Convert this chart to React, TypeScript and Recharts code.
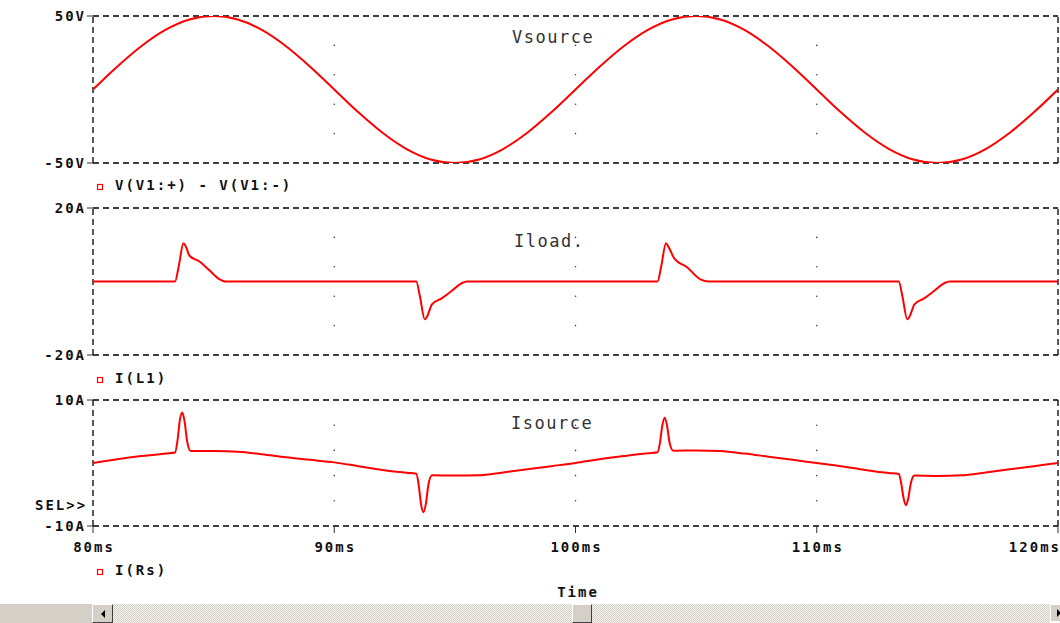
import React from 'react';
import {
	LineChart,
	Line,
	XAxis,
	YAxis,
	ReferenceLine,
	ReferenceDot,
} from 'recharts';

// time axis (ms)
const timeTicks = [80, 90, 100, 110, 120];
const gridTimes = [90, 100, 110];

// Vsource, sampled every 1 ms from 80 to 120 ms
const vTimes = [
	80, 81, 82, 83, 84, 85, 86, 87, 88, 89, 90, 91, 92, 93, 94, 95, 96, 97, 98, 99, 100,
	101, 102, 103, 104, 105, 106, 107, 108, 109, 110, 111, 112, 113, 114, 115, 116, 117, 118, 119, 120,
];
const vValues = [
	0, 15.5, 29.4, 40.5, 47.6, 50, 47.6, 40.5, 29.4, 15.5, 0, -15.5, -29.4, -40.5, -47.6, -50, -47.6, -40.5, -29.4, -15.5, 0,
	15.5, 29.4, 40.5, 47.6, 50, 47.6, 40.5, 29.4, 15.5, 0, -15.5, -29.4, -40.5, -47.6, -50, -47.6, -40.5, -29.4, -15.5, 0,
];
const vTicks = [-50, 50];
const vGrid = [-30, -10, 10, 30];

// Iload
const loadTimes = [
	80, 83.4, 83.55, 83.75, 83.85, 84.0, 84.4, 84.8, 85.2, 85.5,
	93.4, 93.55, 93.75, 93.85, 94.05, 94.45, 94.9, 95.3, 95.5,
	103.4, 103.55, 103.75, 103.85, 104.1, 104.6, 105.2, 105.5,
	113.4, 113.55, 113.75, 113.85, 114.05, 114.45, 114.9, 115.3, 115.5, 120,
];
const loadValues = [
	0, 0, 4, 10.4, 9.5, 7.0, 5.5, 3.2, 0.8, 0,
	0, -4, -10.3, -9.5, -6.2, -4.6, -2.4, -0.4, 0,
	0, 4, 10.4, 9.5, 6.2, 4.0, 0.5, 0,
	0, -4, -10.3, -9.5, -6.2, -4.6, -2.4, -0.4, 0, 0,
];
const loadTicks = [-20, 20];
const loadGrid = [-12, -4, 4, 12];

// Isource
const srcTimes = [
	80, 81, 82, 83, 83.4, 83.5, 83.6, 83.7, 83.8, 83.9, 84.05, 85, 86, 87, 88, 89, 90,
	91, 92, 93, 93.4, 93.5, 93.6, 93.7, 93.8, 93.9, 94.05, 95, 96, 97, 98, 99, 100,
	101, 102, 103, 103.4, 103.5, 103.6, 103.7, 103.8, 103.9, 104.05, 105, 106, 107, 108, 109, 110,
	111, 112, 113, 113.4, 113.5, 113.6, 113.7, 113.8, 113.9, 114.05, 115, 116, 117, 118, 119, 120,
];
const srcValues = [
	0, 0.6, 1.1, 1.5, 1.65, 3.5, 6.8, 8.0, 6.5, 3.5, 1.9, 1.9, 1.8, 1.4, 0.9, 0.5, 0.1,
	-0.5, -1.1, -1.55, -1.7, -3.5, -6.6, -7.8, -6.4, -3.5, -1.95, -2.0, -1.95, -1.5, -1.0, -0.5, 0,
	0.6, 1.1, 1.55, 1.7, 3.2, 6.0, 7.2, 5.8, 3.2, 1.95, 2.0, 1.9, 1.5, 1.0, 0.5, 0,
	-0.5, -1.1, -1.6, -1.75, -3.2, -5.6, -6.7, -5.5, -3.2, -2.0, -2.05, -1.95, -1.5, -1.0, -0.5, 0,
];
const srcTicks = [-10, 10];
const srcGrid = [-6, -2, 2, 6];

const FONT = '"DejaVu Sans Mono", monospace';
const RED = '#ff0000';
const DASH = '#000';

const toRows = (times: number[], values: number[]) =>
	times.map((t, i) => ({ t, v: values[i] }));

function YTick(props: any) {
	const { x, y, payload, unit } = props;
	return (
		<text
			x={x + 1}
			y={y}
			dy={5}
			textAnchor="end"
			fontFamily={FONT}
			fontWeight="bold"
			fontSize={14}
			letterSpacing={2}
			fill="#111"
		>
			{`${payload.value}${unit}`}
		</text>
	);
}

function XTick(props: any) {
	const { x, y, payload } = props;
	const last = payload.value === 120;
	return (
		<text
			x={last ? x + 3 : x + 1}
			y={y}
			dy={17}
			textAnchor={last ? 'end' : 'middle'}
			fontFamily={FONT}
			fontWeight="bold"
			fontSize={14}
			letterSpacing={2}
			fill="#111"
		>
			{`${payload.value}ms`}
		</text>
	);
}

interface PanelProps {
	top: number;
	plotHeight: number;
	times: number[];
	values: number[];
	domain: [number, number];
	ticks: number[];
	grid: number[];
	unit: string;
	showTime?: boolean;
}

function Panel({ top, plotHeight, times, values, domain, ticks, grid, unit, showTime }: PanelProps) {
	const data = toRows(times, values);
	const height = 16 + plotHeight + (showTime ? 30 : 7);
	return (
		<div style={{ position: 'absolute', left: 0, top }}>
			<LineChart
				width={1060}
				height={height}
				data={data}
				margin={{ top: 16, right: 2, left: 0, bottom: showTime ? 0 : 7 }}
			>
				<XAxis
					dataKey="t"
					type="number"
					domain={[80, 120]}
					ticks={timeTicks}
					hide={!showTime}
					axisLine={false}
					tickSize={7}
					tickLine={{ stroke: '#333' }}
					tick={<XTick />}
					interval={0}
					allowDataOverflow
				/>
				<YAxis
					type="number"
					domain={domain}
					ticks={ticks}
					interval={0}
					width={93}
					axisLine={false}
					tickSize={6}
					tickLine={{ stroke: '#333' }}
					tick={<YTick unit={unit} />}
					allowDataOverflow
				/>
				<ReferenceLine y={domain[1]} stroke={DASH} strokeWidth={1.3} strokeDasharray="6 4" />
				<ReferenceLine y={domain[0]} stroke={DASH} strokeWidth={1.3} strokeDasharray="6 4" />
				<ReferenceLine x={80} stroke={DASH} strokeWidth={1.3} strokeDasharray="6 4" />
				<ReferenceLine x={120} stroke={DASH} strokeWidth={1.3} strokeDasharray="6 4" />
				{gridTimes.map((gx) =>
					grid.map((gy) => (
						<ReferenceDot
							key={`${gx}-${gy}`}
							x={gx}
							y={gy}
							r={0.8}
							fill="#444"
							stroke="none"
						/>
					))
				)}
				<Line
					type="monotone"
					dataKey="v"
					stroke={RED}
					strokeWidth={2}
					dot={false}
					isAnimationActive={false}
				/>
			</LineChart>
		</div>
	);
}

const labelText = {
	fontFamily: FONT,
	fontWeight: 'bold' as const,
	fontSize: 14,
	letterSpacing: 2,
	fill: '#111',
};

const titleText = {
	fontFamily: FONT,
	fontSize: 17,
	letterSpacing: 1.5,
	fill: '#333',
};

export default function App() {
	return (
		<div
			style={{
				position: 'absolute',
				left: 0,
				top: 0,
				width: 1060,
				height: 623,
				background: '#fff',
				overflow: 'hidden',
			}}
		>
			<Panel top={0} plotHeight={147} times={vTimes} values={vValues} domain={[-50, 50]} ticks={vTicks} grid={vGrid} unit="V" />
			<Panel top={192} plotHeight={147} times={loadTimes} values={loadValues} domain={[-20, 20]} ticks={loadTicks} grid={loadGrid} unit="A" />
			<Panel top={384} plotHeight={126} times={srcTimes} values={srcValues} domain={[-10, 10]} ticks={srcTicks} grid={srcGrid} unit="A" showTime />

			<svg width={1060} height={623} style={{ position: 'absolute', left: 0, top: 0, pointerEvents: 'none' }}>
				<text x={512} y={43} {...titleText}>Vsource</text>
				<text x={514} y={247} {...titleText}>Iload.</text>
				<text x={511} y={429} {...titleText}>Isource</text>

				<rect x={97.5} y={184.5} width={5} height={5} fill="none" stroke={RED} strokeWidth={1.2} />
				<text x={115} y={190} {...labelText}>V(V1:+) - V(V1:-)</text>
				<rect x={97.5} y={377.5} width={5} height={5} fill="none" stroke={RED} strokeWidth={1.2} />
				<text x={115} y={383} {...labelText}>I(L1)</text>
				<rect x={97.5} y={569.5} width={5} height={5} fill="none" stroke={RED} strokeWidth={1.2} />
				<text x={115} y={575} {...labelText}>I(Rs)</text>

				<text x={35} y={510} {...labelText}>SEL&gt;&gt;</text>
				<text x={578} y={597} textAnchor="middle" {...labelText}>Time</text>
			</svg>

			{/* scrollbar */}
			<div style={{ position: 'absolute', left: 0, top: 604, width: 92, height: 19, background: '#d4d0c8' }} />
			<div
				style={{
					position: 'absolute',
					left: 113,
					top: 604,
					width: 937,
					height: 19,
					background: 'repeating-conic-gradient(#d4d0c8 0% 25%, #f4f3ef 0% 50%) 0 0 / 2px 2px',
				}}
			/>
			<div
				style={{
					position: 'absolute',
					left: 92,
					top: 604,
					width: 19,
					height: 17,
					background: '#d4d0c8',
					borderTop: '1px solid #fff',
					borderLeft: '1px solid #fff',
					borderRight: '1px solid #404040',
					borderBottom: '1px solid #404040',
					display: 'flex',
					alignItems: 'center',
					justifyContent: 'center',
				}}
			>
				<div style={{ width: 0, height: 0, borderTop: '4px solid transparent', borderBottom: '4px solid transparent', borderRight: '4px solid #000' }} />
			</div>
			<div
				style={{
					position: 'absolute',
					left: 572,
					top: 604,
					width: 18,
					height: 17,
					background: '#d4d0c8',
					borderTop: '1px solid #fff',
					borderLeft: '1px solid #fff',
					borderRight: '1px solid #404040',
					borderBottom: '1px solid #404040',
				}}
			/>
			<div
				style={{
					position: 'absolute',
					left: 1050,
					top: 604,
					width: 19,
					height: 17,
					background: '#d4d0c8',
					borderTop: '1px solid #fff',
					borderLeft: '1px solid #fff',
					display: 'flex',
					alignItems: 'center',
					paddingLeft: 6,
					boxSizing: 'border-box',
				}}
			>
				<div style={{ width: 0, height: 0, borderTop: '4px solid transparent', borderBottom: '4px solid transparent', borderLeft: '4px solid #000' }} />
			</div>
		</div>
	);
}
